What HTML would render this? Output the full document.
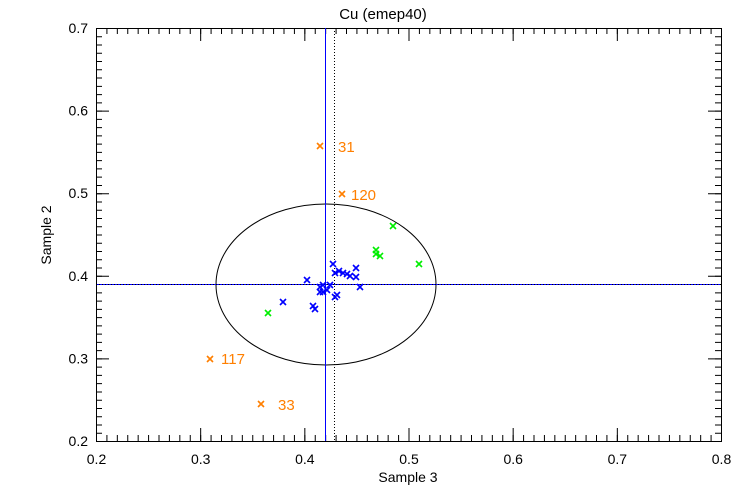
<!DOCTYPE html>
<html><head><style>body{margin:0;background:#fff}svg{display:block}text{font-family:"Liberation Sans",sans-serif}</style></head><body>
<svg width="750" height="500" xmlns="http://www.w3.org/2000/svg">
<rect width="750" height="500" fill="#fff"/>
<g stroke="#000" fill="none">
<line x1="96" y1="438" x2="722" y2="438" stroke-width="6" stroke-dasharray="1 9.41667"/>
<line x1="96" y1="31" x2="722" y2="31" stroke-width="6" stroke-dasharray="1 9.41667"/>
<line x1="96" y1="434.5" x2="722" y2="434.5" stroke-width="13" stroke-dasharray="1 103.1667"/>
<line x1="96" y1="34.5" x2="722" y2="34.5" stroke-width="13" stroke-dasharray="1 103.1667"/>
<line x1="99" y1="28" x2="99" y2="442" stroke-width="6" stroke-dasharray="1 7.26"/>
<line x1="718" y1="28" x2="718" y2="442" stroke-width="6" stroke-dasharray="1 7.26"/>
<line x1="102.5" y1="28" x2="102.5" y2="442" stroke-width="13" stroke-dasharray="1 81.6"/>
<line x1="714.5" y1="28" x2="714.5" y2="442" stroke-width="13" stroke-dasharray="1 81.6"/>
<rect x="96.5" y="28.5" width="625" height="413"/>
</g>
<text x="383" y="19" font-size="15" text-anchor="middle">Cu (emep40)</text>
<text x="408" y="482" font-size="14" text-anchor="middle">Sample 3</text>
<text transform="translate(51,235) rotate(-90)" font-size="14" text-anchor="middle">Sample 2</text>
<g font-size="14" text-anchor="middle">
<text x="96.5" y="464">0.2</text><text x="200.7" y="464">0.3</text><text x="304.8" y="464">0.4</text><text x="409" y="464">0.5</text><text x="513.2" y="464">0.6</text><text x="617.3" y="464">0.7</text><text x="721.5" y="464">0.8</text>
</g>
<g font-size="14" text-anchor="end">
<text x="88" y="446">0.2</text><text x="88" y="363.4">0.3</text><text x="88" y="280.8">0.4</text><text x="88" y="198.2">0.5</text><text x="88" y="115.6">0.6</text><text x="88" y="33">0.7</text>
</g>
<ellipse cx="326" cy="284.5" rx="110" ry="80.5" fill="none" stroke="#000"/>
<line x1="334.5" y1="28" x2="334.5" y2="441" stroke="#000" stroke-dasharray="1,2"/>
<line x1="325.5" y1="28" x2="325.5" y2="441" stroke="#0000ff"/>
<line x1="96" y1="284.5" x2="721" y2="284.5" stroke="#0000ff"/>
<line x1="96" y1="284.5" x2="721" y2="284.5" stroke="#000" stroke-dasharray="1,2"/>
<path stroke="#0000ff" stroke-width="1.6" fill="none" d="
M330 261l6 6m-6 0l6-6 M332 270l6 6m-6 0l6-6 M336 268l6 6m-6 0l6-6 M340 270l6 6m-6 0l6-6 M344 271l6 6m-6 0l6-6 M347 273l6 6m-6 0l6-6 M353 265l6 6m-6 0l6-6 M353 274l6 6m-6 0l6-6 M357 284l6 6m-6 0l6-6 M304 277l6 6m-6 0l6-6 M280 299l6 6m-6 0l6-6 M310 303l6 6m-6 0l6-6 M312 306l6 6m-6 0l6-6 M317 284l6 6m-6 0l6-6 M320 282l6 6m-6 0l6-6 M320 289l6 6m-6 0l6-6 M324 287l6 6m-6 0l6-6 M327 282l6 6m-6 0l6-6 M332 294l6 6m-6 0l6-6 M334 292l6 6m-6 0l6-6 M317 289l6 6m-6 0l6-6"/>
<path stroke="#00ee00" stroke-width="1.6" fill="none" d="
M390 223l6 6m-6 0l6-6 M373 247l6 6m-6 0l6-6 M377 253l6 6m-6 0l6-6 M373 251l6 6m-6 0l6-6 M416 261l6 6m-6 0l6-6 M265 310l6 6m-6 0l6-6"/>
<path stroke="#ff7f00" stroke-width="1.6" fill="none" d="
M317 143l6 6m-6 0l6-6 M339 191l6 6m-6 0l6-6 M207 356l6 6m-6 0l6-6 M258 401l6 6m-6 0l6-6"/>
<g font-size="15" fill="#ff7f00">
<text x="338" y="152">31</text><text x="351" y="200">120</text>
<text x="221" y="364">117</text><text x="278" y="410">33</text>
</g>
</svg></body></html>
